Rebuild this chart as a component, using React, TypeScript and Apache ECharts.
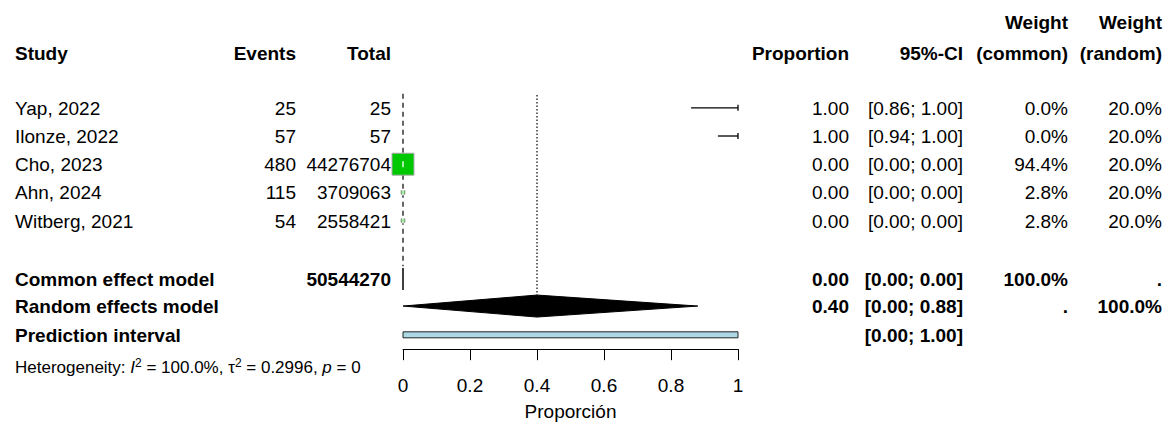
import React, { useEffect, useRef } from "react";
import * as echarts from "echarts";

// Individual studies
const studies = ["Yap, 2022", "Ilonze, 2022", "Cho, 2023", "Ahn, 2024", "Witberg, 2021"];
const events = [25, 57, 480, 115, 54];
const totals = [25, 57, 44276704, 3709063, 2558421];
const proportions = [1.0, 1.0, 0.0, 0.0, 0.0];
const ciLower = [0.86, 0.94, 0.0, 0.0, 0.0];
const ciUpper = [1.0, 1.0, 0.0, 0.0, 0.0];
const weightCommon = [0.0, 0.0, 94.4, 2.8, 2.8];
const weightRandom = [20.0, 20.0, 20.0, 20.0, 20.0];

// Pooled estimates: common effect, random effects
const pooledLabels = ["Common effect model", "Random effects model"];
const pooledEst = [0.0, 0.4];
const pooledLower = [0.0, 0.0];
const pooledUpper = [0.0, 0.88];
const pooledWeightCommon = ["100.0%", "."];
const pooledWeightRandom = [".", "100.0%"];
const commonTotal = 50544270;

const predictionLabel = "Prediction interval";
const predictionInterval = [0.0, 1.0];

const hetI2 = "100.0%";
const hetTau2 = "0.2996";
const hetP = "0";

const xTicks = [0, 0.2, 0.4, 0.6, 0.8, 1];
const xAxisTitle = "Proporción";

// Row layout (value units on the inverted y axis)
const ROW_HEADER_TOP = -3.05;
const ROW_HEADER = -1.94;
const ROW_COMMON = 6.07;
const ROW_RANDOM = 7.03;
const ROW_PRED = 8.05;
const ROW_HET = 9.21;

const FONT = '"Liberation Sans", Arial, Helvetica, sans-serif';
const FS = 19;

// Column anchors in pixels
const COL = {
  study: { x: 15, align: "left" },
  events: { x: 296, align: "right" },
  total: { x: 391, align: "right" },
  prop: { x: 849, align: "right" },
  ci: { x: 963, align: "right" },
  wc: { x: 1068, align: "right" },
  wr: { x: 1162, align: "right" },
} as const;

type Cell = { col: keyof typeof COL; row: number; text: string; bold?: boolean };

const fmtCI = (l: number, u: number) => `[${l.toFixed(2)}; ${u.toFixed(2)}]`;
const fmtW = (w: number) => `${w.toFixed(1)}%`;

function buildCells(): Cell[] {
  const cells: Cell[] = [];
  cells.push({ col: "wc", row: ROW_HEADER_TOP, text: "Weight", bold: true });
  cells.push({ col: "wr", row: ROW_HEADER_TOP, text: "Weight", bold: true });
  cells.push({ col: "study", row: ROW_HEADER, text: "Study", bold: true });
  cells.push({ col: "events", row: ROW_HEADER, text: "Events", bold: true });
  cells.push({ col: "total", row: ROW_HEADER, text: "Total", bold: true });
  cells.push({ col: "prop", row: ROW_HEADER, text: "Proportion", bold: true });
  cells.push({ col: "ci", row: ROW_HEADER, text: "95%-CI", bold: true });
  cells.push({ col: "wc", row: ROW_HEADER, text: "(common)", bold: true });
  cells.push({ col: "wr", row: ROW_HEADER, text: "(random)", bold: true });

  studies.forEach((s, i) => {
    cells.push({ col: "study", row: i, text: s });
    cells.push({ col: "events", row: i, text: String(events[i]) });
    cells.push({ col: "total", row: i, text: String(totals[i]) });
    cells.push({ col: "prop", row: i, text: proportions[i].toFixed(2) });
    cells.push({ col: "ci", row: i, text: fmtCI(ciLower[i], ciUpper[i]) });
    cells.push({ col: "wc", row: i, text: fmtW(weightCommon[i]) });
    cells.push({ col: "wr", row: i, text: fmtW(weightRandom[i]) });
  });

  const pooledRows = [ROW_COMMON, ROW_RANDOM];
  pooledLabels.forEach((lab, k) => {
    const r = pooledRows[k];
    cells.push({ col: "study", row: r, text: lab, bold: true });
    if (k === 0) cells.push({ col: "total", row: r, text: String(commonTotal), bold: true });
    cells.push({ col: "prop", row: r, text: pooledEst[k].toFixed(2), bold: true });
    cells.push({ col: "ci", row: r, text: fmtCI(pooledLower[k], pooledUpper[k]), bold: true });
    cells.push({ col: "wc", row: r, text: pooledWeightCommon[k], bold: true });
    cells.push({ col: "wr", row: r, text: pooledWeightRandom[k], bold: true });
  });

  cells.push({ col: "study", row: ROW_PRED, text: predictionLabel, bold: true });
  cells.push({
    col: "ci",
    row: ROW_PRED,
    text: fmtCI(predictionInterval[0], predictionInterval[1]),
    bold: true,
  });
  return cells;
}

const SQUARE_SCALE = 2.26; // px per sqrt(weight %)
const END_TICK = 3;
const DIAMOND_H = 11;

export default function App() {
  const ref = useRef<HTMLDivElement>(null);

  useEffect(() => {
    if (!ref.current) return;
    const chart = echarts.init(ref.current, null, { renderer: "svg" });
    const cells = buildCells();
    const xMin = xTicks[0];
    const xMax = xTicks[xTicks.length - 1];

    const option: any = {
      animation: false,
      backgroundColor: "#ffffff",
      grid: {
        left: 403,
        right: 428,
        top: 9.1,
        bottom: 72.8,
        containLabel: false,
        outerBoundsMode: "none",
      },
      xAxis: {
        type: "value",
        min: xMin,
        max: xMax,
        interval: 0.2,
        splitLine: { show: false },
        axisLine: { show: true, onZero: false, lineStyle: { color: "#000", width: 1 } },
        axisTick: { show: true, inside: false, length: 11, lineStyle: { color: "#000", width: 1 } },
        axisLabel: {
          margin: 27,
          color: "#000",
          fontSize: FS,
          fontFamily: FONT,
          formatter: (v: number) => String(Math.round(v * 10) / 10),
        },
        name: xAxisTitle,
        nameLocation: "middle",
        nameGap: 53,
        nameTextStyle: { color: "#000", fontSize: FS, fontFamily: FONT, lineHeight: 18 },
      },
      yAxis: {
        type: "value",
        inverse: true,
        min: -3.5,
        max: 8.56,
        show: false,
      },
      series: [
        // Reference lines at pooled estimates
        {
          type: "custom",
          clip: false,
          z: 1,
          data: [
            [pooledEst[0], -0.5, ROW_COMMON - 0.45, 0],
            [pooledEst[1], -0.45, ROW_RANDOM, 1],
          ],
          encode: { x: 0, y: [1, 2] },
          renderItem: (_p: any, api: any) => {
            const a = api.coord([api.value(0), api.value(1)]);
            const b = api.coord([api.value(0), api.value(2)]);
            const dashed = api.value(3) === 0;
            return {
              type: "line",
              shape: { x1: a[0], y1: a[1], x2: b[0], y2: b[1] },
              style: {
                stroke: "#000",
                lineWidth: 1.2,
                lineDash: dashed ? [5, 4] : [1.5, 2],
              },
            };
          },
        },
        // Prediction interval bar
        {
          type: "custom",
          clip: false,
          z: 2,
          data: [[predictionInterval[0], predictionInterval[1], ROW_PRED]],
          encode: { x: [0, 1], y: 2 },
          renderItem: (_p: any, api: any) => {
            const a = api.coord([api.value(0), api.value(2)]);
            const b = api.coord([api.value(1), api.value(2)]);
            return {
              type: "rect",
              shape: { x: a[0], y: a[1] - 3, width: b[0] - a[0], height: 6 },
              style: { fill: "#add8e6", stroke: "#222", lineWidth: 1 },
            };
          },
        },
        // Pooled diamonds
        {
          type: "custom",
          clip: false,
          z: 3,
          data: pooledEst.map((e, k) => [e, pooledLower[k], pooledUpper[k], k === 0 ? ROW_COMMON : ROW_RANDOM]),
          encode: { x: [0, 1, 2], y: 3 },
          renderItem: (_p: any, api: any) => {
            const row = api.value(3);
            const c = api.coord([api.value(0), row]);
            const l = api.coord([api.value(1), row]);
            const u = api.coord([api.value(2), row]);
            return {
              type: "polygon",
              shape: {
                points: [
                  [l[0], l[1]],
                  [c[0], c[1] - DIAMOND_H],
                  [u[0], u[1]],
                  [c[0], c[1] + DIAMOND_H],
                ],
              },
              style: { fill: "#000", stroke: "#000", lineWidth: 1 },
            };
          },
        },
        // Study squares and confidence intervals
        {
          type: "custom",
          clip: false,
          z: 4,
          data: studies.map((_, i) => [proportions[i], ciLower[i], ciUpper[i], i, weightCommon[i]]),
          encode: { x: [0, 1, 2], y: 3 },
          renderItem: (_p: any, api: any) => {
            const row = api.value(3);
            const c = api.coord([api.value(0), row]);
            const lo = api.value(1);
            const hi = api.value(2);
            const l = api.coord([lo, row]);
            const u = api.coord([hi, row]);
            const side = Math.sqrt(api.value(4)) * SQUARE_SCALE;
            const half = side / 2;
            const children: any[] = [];
            if (side > 0) {
              children.push({
                type: "rect",
                shape: { x: c[0] - half, y: c[1] - half, width: side, height: side },
                style: { fill: "#00c800", stroke: "#a8a8a8", lineWidth: 1 },
              });
            }
            const inside = (x: number) => side > 0 && x >= c[0] - half && x <= c[0] + half;
            const lineCol = inside(l[0]) && inside(u[0]) ? "#fff" : "#000";
            if (u[0] - l[0] > 0.5) {
              children.push({
                type: "line",
                shape: { x1: l[0], y1: l[1], x2: u[0], y2: u[1] },
                style: { stroke: lineCol, lineWidth: 1.3 },
              });
            }
            const ends: number[][] = [];
            if (hi >= xMax) ends.push(u);
            if (lo <= xMin) ends.push(l);
            ends.forEach((p) => {
              children.push({
                type: "line",
                shape: { x1: p[0], y1: p[1] - END_TICK, x2: p[0], y2: p[1] + END_TICK },
                style: { stroke: inside(p[0]) ? "#fff" : "#000", lineWidth: 1.3 },
              });
            });
            return { type: "group", children };
          },
        },
        // Table text
        {
          type: "custom",
          clip: false,
          z: 5,
          silent: true,
          data: cells.map((c) => [0, c.row]),
          encode: { x: 0, y: 1 },
          renderItem: (p: any, api: any) => {
            const cell = cells[p.dataIndex];
            const y = api.coord([0, api.value(1)])[1];
            const col = COL[cell.col];
            return {
              type: "text",
              style: {
                x: col.x,
                y: y + 0.5,
                text: cell.text,
                fill: "#000",
                fontSize: FS,
                fontFamily: FONT,
                fontWeight: cell.bold ? "bold" : "normal",
                align: col.align,
                verticalAlign: "middle",
              },
            };
          },
        },
        // Heterogeneity statistics
        {
          type: "custom",
          clip: false,
          z: 5,
          silent: true,
          data: [[0, ROW_HET]],
          encode: { x: 0, y: 1 },
          renderItem: (_p: any, api: any) => {
            const y = api.coord([0, api.value(1)])[1];
            return {
              type: "text",
              style: {
                x: COL.study.x,
                y,
                text:
                  `{n|Heterogeneity: }{i|I}{s|2}{n| = ${hetI2}, τ}{s|2}{n| = ${hetTau2}, }{i|p}{n| = ${hetP}}`,
                fill: "#000",
                fontSize: 17,
                fontFamily: FONT,
                align: "left",
                verticalAlign: "middle",
                rich: {
                  n: { fontSize: 17, fontFamily: FONT, lineHeight: 22, fill: "#000" },
                  i: { fontSize: 17, fontFamily: FONT, fontStyle: "italic", lineHeight: 22, fill: "#000" },
                  s: { fontSize: 12, fontFamily: FONT, verticalAlign: "top", lineHeight: 12, fill: "#000" },
                },
              },
            };
          },
        },
      ],
    };

    chart.setOption(option);
    return () => chart.dispose();
  }, []);

  return (
    <div
      ref={ref}
      style={{ position: "absolute", left: 0, top: 0, width: 1166, height: 422, background: "#fff" }}
    />
  );
}
